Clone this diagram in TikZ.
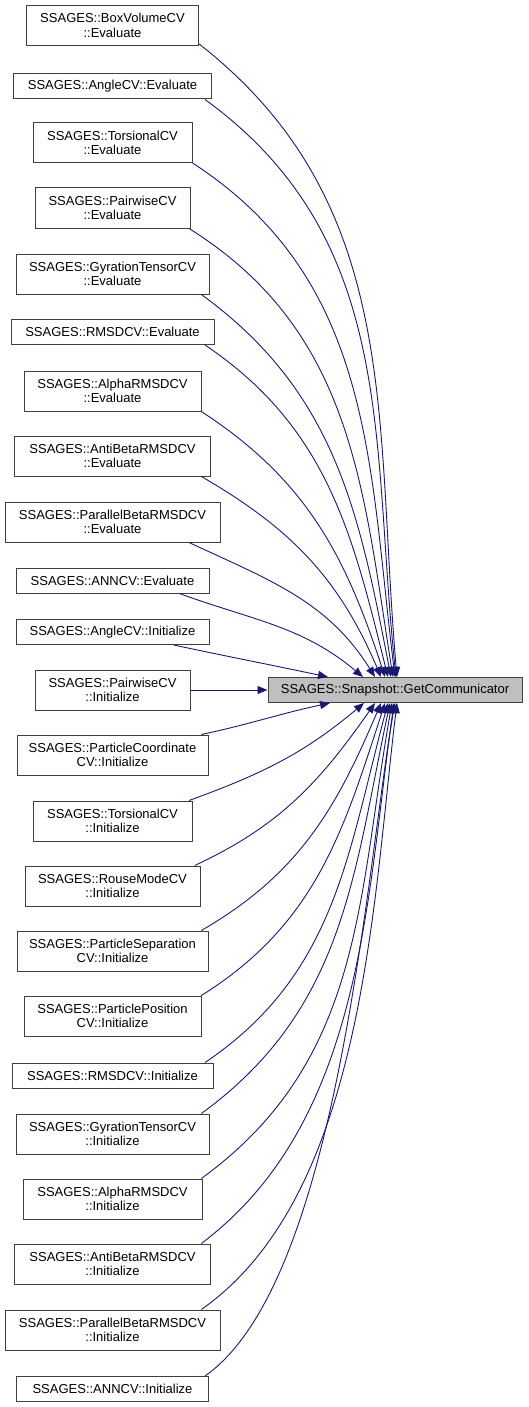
\documentclass[tikz,border=0pt]{standalone}
\usepackage{fontspec}
\setmainfont{Liberation Sans}
\usepackage{xcolor}
\usepackage{tikz}
\usetikzlibrary{arrows.meta}
\definecolor{edgeblue}{HTML}{191970}
\begin{document}
\begin{tikzpicture}[x=1pt, y=1pt,
  fn/.style={draw=black!75, line width=1pt, fill=white, inner sep=0pt, align=center,
    font=\fontsize{13}{14.5}\selectfont},
  two/.style={fn, minimum height=40},
  one/.style={fn, minimum height=25},
  cur/.style={one, fill=black!25},
  call/.style={draw=edgeblue, line width=0.9pt, -{Triangle[length=10pt,width=8pt]}}]
\useasboundingbox (0,0) rectangle (528,-1407);
\node[cur, minimum width=254] (snap) at (395,-690) {SSAGES::Snapshot::GetCommunicator};
\node[two, minimum width=172] (bvEval) at (112.5,-25.5) {SSAGES::BoxVolumeCV\\::Evaluate};
\node[one, minimum width=198] (angleEval) at (112.5,-86.5) {SSAGES::AngleCV::Evaluate};
\node[two, minimum width=159] (torsEval) at (112.5,-143) {SSAGES::TorsionalCV\\::Evaluate};
\node[two, minimum width=155] (pairEval) at (112.5,-208) {SSAGES::PairwiseCV\\::Evaluate};
\node[two, minimum width=193] (gyrEval) at (112.5,-274) {SSAGES::GyrationTensorCV\\::Evaluate};
\node[one, minimum width=203] (rmsdEval) at (112.5,-332) {SSAGES::RMSDCV::Evaluate};
\node[two, minimum width=177] (alphaEval) at (112.5,-391) {SSAGES::AlphaRMSDCV\\::Evaluate};
\node[two, minimum width=196] (antiEval) at (112.5,-456) {SSAGES::AntiBetaRMSDCV\\::Evaluate};
\node[two, minimum width=215] (paraEval) at (112.5,-522) {SSAGES::ParallelBetaRMSDCV\\::Evaluate};
\node[one, minimum width=193] (annEval) at (112.5,-580.5) {SSAGES::ANNCV::Evaluate};
\node[one, minimum width=193] (angleInit) at (112.5,-632) {SSAGES::AngleCV::Initialize};
\node[two, minimum width=155] (pairInit) at (112.5,-690) {SSAGES::PairwiseCV\\::Initialize};
\node[two, minimum width=191] (pcoordInit) at (112.5,-755) {SSAGES::ParticleCoordinate\\CV::Initialize};
\node[two, minimum width=159] (torsInit) at (112.5,-821) {SSAGES::TorsionalCV\\::Initialize};
\node[two, minimum width=175] (rouseInit) at (112.5,-886) {SSAGES::RouseModeCV\\::Initialize};
\node[two, minimum width=191] (psepInit) at (112.5,-951) {SSAGES::ParticleSeparation\\CV::Initialize};
\node[two, minimum width=177] (pposInit) at (112.5,-1016) {SSAGES::ParticlePosition\\CV::Initialize};
\node[one, minimum width=201] (rmsdInit) at (112.5,-1075.5) {SSAGES::RMSDCV::Initialize};
\node[two, minimum width=193] (gyrInit) at (112.5,-1134) {SSAGES::GyrationTensorCV\\::Initialize};
\node[two, minimum width=179] (alphaInit) at (112.5,-1199) {SSAGES::AlphaRMSDCV\\::Initialize};
\node[two, minimum width=196] (antiInit) at (112.5,-1264) {SSAGES::AntiBetaRMSDCV\\::Initialize};
\node[two, minimum width=215] (paraInit) at (112.5,-1330) {SSAGES::ParallelBetaRMSDCV\\::Initialize};
\node[one, minimum width=192] (annInit) at (112.5,-1389) {SSAGES::ANNCV::Initialize};
% callers above
\draw[call] (bvEval.-12) to[out=-38,in=95] ([xshift=2]snap.north);
\draw[call] (angleEval.-8) to[out=-36,in=96] ([xshift=1]snap.north);
\draw[call] (torsEval.-14) to[out=-33,in=97] (snap.north);
\draw[call] (pairEval.-15) to[out=-32,in=99] ([xshift=-2]snap.north);
\draw[call] (gyrEval.-13) to[out=-36,in=101] ([xshift=-4]snap.north);
\draw[call] (rmsdEval.-8) to[out=-34,in=104] ([xshift=-7]snap.north);
\draw[call] (alphaEval.-13) to[out=-33,in=108] ([xshift=-10]snap.north);
\draw[call] (antiEval.-13) to[out=-30,in=113] ([xshift=-14]snap.north);
\draw[call] (paraEval.-15) to[out=-25,in=122] ([xshift=-20]snap.north);
\draw[call] (annEval.-11) to[out=-20,in=140] ([xshift=-32]snap.north);
\draw[call] (angleInit.-12) to[out=-12,in=168] ([xshift=-67]snap.north);
\draw[call] (pairInit.east) -- (snap.west);
% callers below
\draw[call] (pcoordInit.13) to[out=12,in=-168] ([xshift=-65]snap.south);
\draw[call] (torsInit.15) to[out=20,in=-140] ([xshift=-31]snap.south);
\draw[call] (rouseInit.14) to[out=25,in=-125] ([xshift=-20]snap.south);
\draw[call] (psepInit.13) to[out=30,in=-113] ([xshift=-14]snap.south);
\draw[call] (pposInit.13) to[out=32,in=-108] ([xshift=-10]snap.south);
\draw[call] (rmsdInit.8) to[out=34,in=-105] ([xshift=-7]snap.south);
\draw[call] (gyrInit.13) to[out=36,in=-102] ([xshift=-5]snap.south);
\draw[call] (alphaInit.13) to[out=36,in=-100] ([xshift=-3]snap.south);
\draw[call] (antiInit.13) to[out=37,in=-98,looseness=0.9] ([xshift=-1]snap.south);
\draw[call] (paraInit.13) to[out=35,in=-97,looseness=0.8] ([xshift=2]snap.south);
\draw[call] (annInit.8) to[out=35,in=-100,looseness=0.6] (snap.south);
\end{tikzpicture}
\end{document}
